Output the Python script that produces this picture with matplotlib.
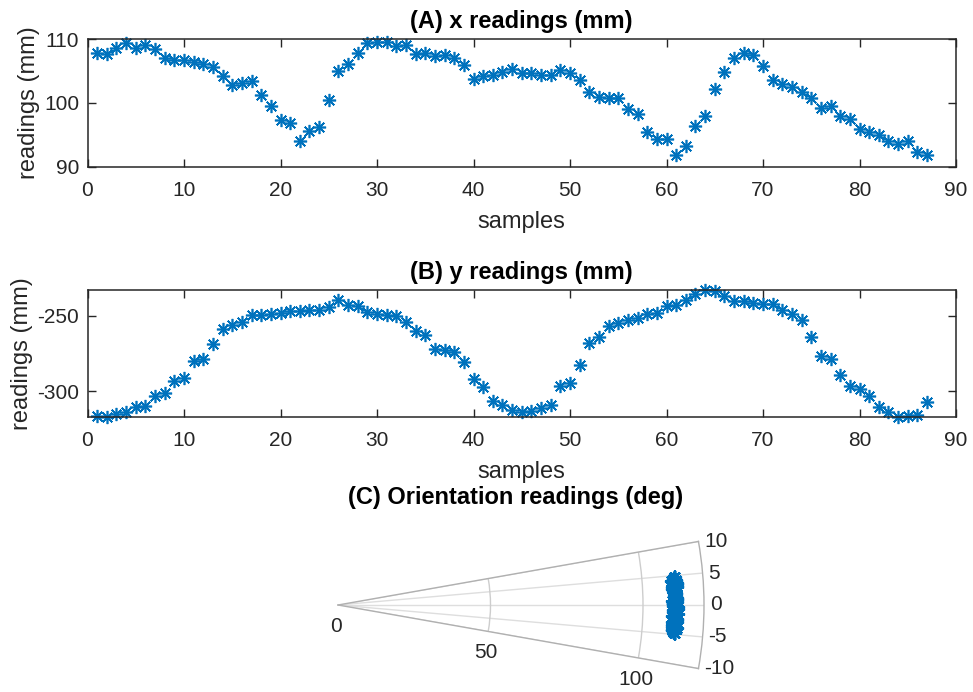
import numpy as np
import matplotlib
matplotlib.use("Agg")
import matplotlib.pyplot as plt
from matplotlib.transforms import ScaledTranslation

plt.rcParams['font.family'] = ['Liberation Sans', 'DejaVu Sans']
plt.rcParams['axes.unicode_minus'] = False

# ---------------- data ----------------
samples = list(range(1, 88))

x_readings = [107.9, 107.7, 108.6, 109.4, 108.7, 109.1, 108.4, 107.0, 106.8, 106.7,
              106.4, 106.2, 105.6, 104.3, 102.9, 103.1, 103.5, 101.2, 99.6, 97.3,
              96.8, 94.0, 95.6, 96.2, 100.4, 105.0, 106.1, 107.9, 109.4, 109.6,
              109.6, 109.0, 109.1, 107.7, 107.8, 107.4, 107.5, 107.0, 106.0, 103.7,
              104.2, 104.4, 104.8, 105.3, 104.7, 104.7, 104.4, 104.4, 105.2, 104.7,
              103.6, 101.7, 100.9, 100.8, 100.8, 99.1, 98.2, 95.4, 94.4, 94.3,
              91.8, 93.3, 96.4, 98.0, 102.2, 104.9, 107.0, 107.8, 107.5, 105.8,
              103.6, 103.0, 102.5, 101.8, 100.8, 99.2, 99.6, 98.0, 97.5, 95.9,
              95.4, 94.9, 94.1, 93.5, 94.0, 92.3, 91.8]

y_readings = [-316.4, -317.1, -315.3, -314.2, -310.9, -309.8, -303.3, -301.1, -293.4, -291.2,
              -280.2, -278.7, -268.6, -259.0, -256.1, -253.9, -249.5, -249.1, -248.4, -247.8,
              -246.9, -246.7, -246.3, -245.8, -244.1, -239.2, -243.0, -243.6, -247.4, -248.4,
              -249.5, -250.2, -253.9, -259.9, -262.7, -272.1, -273.0, -273.7, -280.9, -291.9,
              -297.1, -306.6, -309.4, -312.7, -314.2, -313.6, -311.6, -309.4, -296.7, -294.5,
              -282.4, -268.2, -263.8, -256.8, -254.6, -252.8, -251.1, -248.4, -248.0, -243.6,
              -243.0, -239.2, -235.3, -232.7, -233.1, -236.4, -239.7, -240.1, -241.4, -242.3,
              -242.3, -245.8, -248.4, -252.8, -264.2, -276.5, -278.7, -289.0, -296.7, -298.9,
              -303.3, -310.9, -314.2, -317.5, -316.4, -316.0, -307.2]

orient_theta_deg = [-4.6, -3.9, -4.2, -2.8, -3.5, -1.9, -2.4, -0.8, -1.5, 0.3,
                    -0.4, 1.2, 0.7, 2.1, 1.6, 3.0, 2.4, 3.8, 3.3, 4.5,
                    4.1, 4.7, 3.6, 2.9, 1.8, 2.6, 0.9, 1.4, -0.2, 0.5,
                    -1.1, -0.6, -2.0, -1.4, -2.9, -2.3, -3.7, -3.1, -4.4, -4.0,
                    -4.8, -3.4, -2.6, -1.7, -0.9, 0.1, 1.0, 1.9, 2.7, 3.5,
                    4.2, 4.6, 3.9, 3.2, 2.2, 1.3, 0.4, -0.5, -1.3, -2.2,
                    -3.0, -3.8, -4.5, -4.1, -3.3, -2.5, -1.6, -0.7, 0.2, 1.1,
                    2.0, 2.8, 3.7, 4.4, 4.8, 4.0, 3.1, 2.3, 1.5, 0.6,
                    -0.3, -1.2, -2.1, -2.7, -3.6, -4.3, -4.7]

orient_r = [110.2, 110.8, 109.9, 111.3, 110.5, 109.7, 111.0, 110.4, 111.5, 109.8,
            110.6, 111.2, 109.6, 110.9, 110.1, 111.4, 109.9, 110.7, 111.1, 110.3,
            109.5, 110.8, 111.3, 110.0, 110.6, 109.8, 111.2, 110.4, 109.7, 111.0,
            110.5, 111.5, 109.9, 110.2, 110.9, 111.3, 109.6, 110.7, 110.1, 111.1,
            110.4, 109.8, 111.4, 110.6, 110.0, 109.7, 111.2, 110.8, 110.3, 109.9,
            111.0, 110.5, 109.6, 111.3, 110.2, 110.9, 109.8, 111.1, 110.4, 110.7,
            109.5, 111.4, 110.1, 110.6, 109.9, 111.0, 110.3, 111.2, 109.7, 110.8,
            110.5, 109.8, 111.3, 110.0, 110.7, 111.1, 109.6, 110.4, 110.9, 110.2,
            111.5, 109.9, 110.6, 111.0, 110.3, 109.7, 110.8]

x_ticks = [0, 10, 20, 30, 40, 50, 60, 70, 80, 90]
xa_yticks = [90, 100, 110]
yb_yticks = [-300, -250]
theta_ticks = [-10, -5, 0, 5, 10]
r_ticks = [0, 50, 100]

titles = ["(A) x readings (mm)", "(B) y readings (mm)", "(C) Orientation readings (deg)"]

# ---------------- style ----------------
BLUE = '#0072BD'
DARK = '#262626'
TICK_FS = 15
LABEL_FS = 17
MARKER = (8, 2, 0)
MS = 9.5
MEW = 1.2

W, H = 973, 692
fig = plt.figure(figsize=(W / 100, H / 100), dpi=100)


def cart_axes(rect, y, yticks, ylim, title):
    ax = fig.add_axes(rect)
    ax.plot(samples, y, linestyle='none', marker=MARKER, ms=MS, mew=MEW,
            color=BLUE, clip_on=False)
    ax.set_xlim(0, 90)
    ax.set_ylim(*ylim)
    ax.set_xticks(x_ticks)
    ax.set_yticks(yticks)
    ax.tick_params(direction='in', length=6, width=1.0, colors=DARK,
                   labelsize=TICK_FS, top=True, right=True, pad=10)
    ax.tick_params(axis='y', pad=6)
    for s in ax.spines.values():
        s.set_color(DARK)
        s.set_linewidth(1.1)
    ax.set_xlabel('samples', fontsize=LABEL_FS, color=DARK, labelpad=8)
    ax.set_ylabel('readings (mm)', fontsize=LABEL_FS, color=DARK, labelpad=3)
    ax.set_title(title, fontsize=LABEL_FS, fontweight='bold', color='black', pad=8)
    return ax


left = 87.5 / W
width = (956 - 87.5) / W
axA = cart_axes([left, 1 - 166.7 / H, width, 127.4 / H], x_readings,
                xa_yticks, (90, 110), titles[0])
axB = cart_axes([left, 1 - 417.3 / H, width, 127.3 / H], y_readings,
                yb_yticks, (min(y_readings), max(y_readings)), titles[1])

# ---------------- polar ----------------
RMAX = 120
cx, cy = 338, 605
rad_px = 366
# matplotlib fits a square around the wedge into the axes box
axC = fig.add_axes([cx / W, 1 - (cy + rad_px / 2) / H, rad_px / W, rad_px / H],
                   projection='polar')
axC.set_thetamin(-10)
axC.set_thetamax(10)
axC.set_rlim(0, RMAX)
axC.plot(np.deg2rad(orient_theta_deg), orient_r, linestyle='none', marker=MARKER,
         ms=MS, mew=MEW, color=BLUE)
axC.set_xticks(np.deg2rad(theta_ticks))
axC.set_yticks(r_ticks)
axC.set_xticklabels([])
axC.set_yticklabels([])
axC.tick_params(length=0)
axC.xaxis.grid(True, color='#dedede', linewidth=1.0)
axC.yaxis.grid(True, color='#cdcdcd', linewidth=1.0)
for s in axC.spines.values():
    s.set_color('#b0b0b0')
    s.set_linewidth(1.0)

off_theta = axC.transData + ScaledTranslation(0.06, 0, fig.dpi_scale_trans)
for t in theta_ticks:
    axC.text(np.deg2rad(t), RMAX, str(t), transform=off_theta, ha='left',
             va='center', fontsize=TICK_FS, color=DARK)
off_r = axC.transData + ScaledTranslation(-0.02, -0.215, fig.dpi_scale_trans)
for r in r_ticks:
    axC.text(np.deg2rad(-10), r, str(r), transform=off_r, ha='center',
             va='center', fontsize=TICK_FS, color=DARK)

fig.text(516 / W, 1 - 504 / H, titles[2], ha='center', va='baseline',
         fontsize=LABEL_FS, fontweight='bold', color='black')

fig.savefig('out.png', dpi=100)
